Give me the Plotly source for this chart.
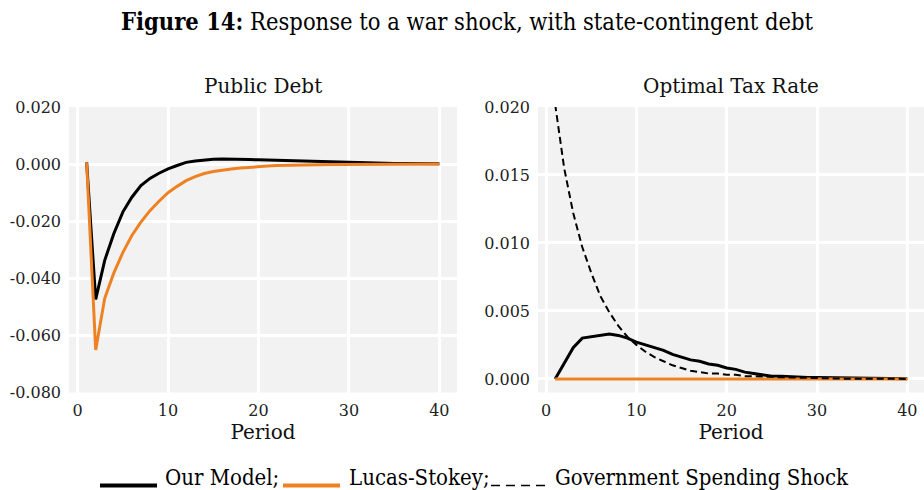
import plotly.graph_objects as go

# ---------------- data ----------------
periods = list(range(1, 41))

debt_our_model = [
    0.0006, -0.0474, -0.0337, -0.0244, -0.0168, -0.0116, -0.0075, -0.0050, -0.0032, -0.0017,
    -0.0005, 0.0006, 0.0011, 0.0015, 0.0017, 0.0018, 0.0018, 0.0017, 0.0016, 0.0015,
    0.0014, 0.0013, 0.0012, 0.0011, 0.0010, 0.0009, 0.0008, 0.0007, 0.0006, 0.0005,
    0.0004, 0.0004, 0.0003, 0.0003, 0.0002, 0.0002, 0.0002, 0.0001, 0.0001, 0.0001,
]
debt_lucas_stokey = [
    0.0006, -0.0651, -0.0470, -0.0382, -0.0310, -0.0250, -0.0203, -0.0163, -0.0130, -0.0100,
    -0.0078, -0.0058, -0.0044, -0.0033, -0.0026, -0.0021, -0.0017, -0.0014, -0.0011, -0.0009,
    -0.0007, -0.0005, -0.0004, -0.0003, -0.0002, -0.0002, -0.0001, -0.0001, -0.0001, -0.0001,
    0.0000, 0.0000, 0.0000, 0.0000, 0.0000, 0.0000, 0.0000, 0.0000, 0.0000, 0.0000,
]
tax_our_model = [
    0.0000, 0.0012, 0.0023, 0.0030, 0.0031, 0.00325, 0.0033, 0.0032, 0.0030, 0.0027,
    0.0025, 0.0023, 0.0021, 0.0018, 0.0016, 0.0014, 0.0013, 0.0011, 0.0010, 0.0008,
    0.0007, 0.0005, 0.0004, 0.0003, 0.0002, 0.0002, 0.00015, 0.00012, 0.0001, 0.0001,
    0.00009, 0.00008, 0.00007, 0.00006, 0.00005, 0.00004, 0.00004, 0.00003, 0.00003, 0.00002,
]
tax_lucas_stokey = [
    0.0, 0.0, 0.0, 0.0, 0.0, 0.0, 0.0, 0.0, 0.0, 0.0,
    0.0, 0.0, 0.0, 0.0, 0.0, 0.0, 0.0, 0.0, 0.0, 0.0,
    0.0, 0.0, 0.0, 0.0, 0.0, 0.0, 0.0, 0.0, 0.0, 0.0,
    0.0, 0.0, 0.0, 0.0, 0.0, 0.0, 0.0, 0.0, 0.0, 0.0,
]
gov_spending_shock = [
    0.0202, 0.0155, 0.0122, 0.0097, 0.0078, 0.0061, 0.0049, 0.0039, 0.0031, 0.0025,
    0.0020, 0.0016, 0.0013, 0.0010, 0.0008, 0.0006, 0.0005, 0.0004, 0.0004, 0.0003,
    0.0003, 0.0002, 0.0002, 0.0002, 0.00015, 0.00012, 0.0001, 0.00008, 0.00006, 0.00005,
    0.00004, 0.00003, 0.00002, 0.00002, 0.00001, 0.00001, 0.00001, 0.0, 0.0, 0.0,
]

x_ticks = [0, 10, 20, 30, 40]
debt_ticks = [-0.08, -0.06, -0.04, -0.02, 0.0, 0.02]
debt_tick_labels = ["-0.080", "-0.060", "-0.040", "-0.020", "0.000", "0.020"]
tax_ticks = [0.0, 0.005, 0.010, 0.015, 0.020]
tax_tick_labels = ["0.000", "0.005", "0.010", "0.015", "0.020"]

panel_titles = ["Public Debt", "Optimal Tax Rate"]
legend_labels = ["Our Model;", "Lucas-Stokey;", "Government Spending Shock"]

# ---------------- style ----------------
W, H = 924, 490
BLACK = "#000000"
ORANGE = "#EE8222"
BG = "#F2F2F2"
AXFONT = "DejaVu Serif"
DOCFONT = "DejaVu Serif Condensed, Liberation Serif, serif"


def px_x(p):
    return p / W


def px_y(p):
    return 1 - p / H


fig = go.Figure()

fig.add_trace(go.Scatter(x=periods, y=debt_our_model, mode="lines",
                         line=dict(color=BLACK, width=3), xaxis="x", yaxis="y"))
fig.add_trace(go.Scatter(x=periods, y=debt_lucas_stokey, mode="lines",
                         line=dict(color=ORANGE, width=3), xaxis="x", yaxis="y"))
fig.add_trace(go.Scatter(x=periods, y=tax_our_model, mode="lines",
                         line=dict(color=BLACK, width=3), xaxis="x2", yaxis="y2"))
fig.add_trace(go.Scatter(x=periods, y=tax_lucas_stokey, mode="lines",
                         line=dict(color=ORANGE, width=3), xaxis="x2", yaxis="y2"))
fig.add_trace(go.Scatter(x=periods, y=gov_spending_shock, mode="lines",
                         line=dict(color=BLACK, width=2, dash="7px,4px"), xaxis="x2", yaxis="y2"))

common_x = dict(
    tickvals=x_ticks, showgrid=True, gridcolor="white", gridwidth=2.5,
    zeroline=False, showline=False, ticks="", ticklabelstandoff=6,
    tickfont=dict(family=AXFONT, size=16, color="#222"),
    title=dict(text="Period", font=dict(family=AXFONT, size=20, color="#111"), standoff=6),
    automargin=False, fixedrange=True,
)
common_y = dict(
    showgrid=True, gridcolor="white", gridwidth=2.5,
    zeroline=False, showline=False, ticks="", ticklabelstandoff=7,
    tickfont=dict(family=AXFONT, size=16, color="#222"),
    automargin=False, fixedrange=True,
)

y_dom = [px_y(392.5), px_y(107)]

fig.update_layout(
    width=W, height=H,
    margin=dict(l=0, r=0, t=0, b=0),
    paper_bgcolor="white", plot_bgcolor=BG,
    showlegend=False,
    xaxis=dict(domain=[px_x(69), px_x(457)], range=[-0.95, 41.95], anchor="y", **common_x),
    yaxis=dict(domain=y_dom, range=[-0.08, 0.02], tickvals=debt_ticks,
               ticktext=debt_tick_labels, anchor="x", **common_y),
    xaxis2=dict(domain=[px_x(538), 1.0], range=[-0.9, 41.85], anchor="y2", **common_x),
    yaxis2=dict(domain=y_dom, range=[-0.001, 0.020], tickvals=tax_ticks,
                ticktext=tax_tick_labels, anchor="x2", **common_y),
)

# panel titles
fig.add_annotation(text=panel_titles[0], x=px_x(263), y=px_y(86), xref="paper", yref="paper",
                   showarrow=False, font=dict(family=AXFONT, size=20, color="#111"),
                   xanchor="center", yanchor="middle")
fig.add_annotation(text=panel_titles[1], x=px_x(731), y=px_y(86), xref="paper", yref="paper",
                   showarrow=False, font=dict(family=AXFONT, size=20, color="#111"),
                   xanchor="center", yanchor="middle")

# figure title
fig.add_annotation(text="<b>Figure 14:</b> Response to a war shock, with state-contingent debt",
                   x=px_x(468), y=px_y(22), xref="paper", yref="paper", showarrow=False,
                   font=dict(family=DOCFONT, size=23.5, color="#000"),
                   xanchor="center", yanchor="middle")

# legend (caption-style)
leg_font = dict(family=DOCFONT, size=22, color="#000")
leg_y = px_y(477)
line_y = px_y(485.5)
fig.add_shape(type="line", xref="paper", yref="paper", x0=px_x(100), x1=px_x(157),
              y0=line_y, y1=line_y, line=dict(color=BLACK, width=4))
fig.add_annotation(text=legend_labels[0], x=px_x(163), y=leg_y, xref="paper", yref="paper",
                   showarrow=False, font=leg_font, xanchor="left", yanchor="middle")
fig.add_shape(type="line", xref="paper", yref="paper", x0=px_x(283), x1=px_x(340),
              y0=line_y, y1=line_y, line=dict(color=ORANGE, width=4))
fig.add_annotation(text=legend_labels[1], x=px_x(347), y=leg_y, xref="paper", yref="paper",
                   showarrow=False, font=leg_font, xanchor="left", yanchor="middle")
fig.add_shape(type="line", xref="paper", yref="paper", x0=px_x(491), x1=px_x(546),
              y0=line_y, y1=line_y, line=dict(color=BLACK, width=1.5, dash="9px,6px"))
fig.add_annotation(text=legend_labels[2], x=px_x(553), y=leg_y, xref="paper", yref="paper",
                   showarrow=False, font=leg_font, xanchor="left", yanchor="middle")

fig.write_html("out.html", config={"displayModeBar": False},
               post_script="document.body.style.margin='0';")
